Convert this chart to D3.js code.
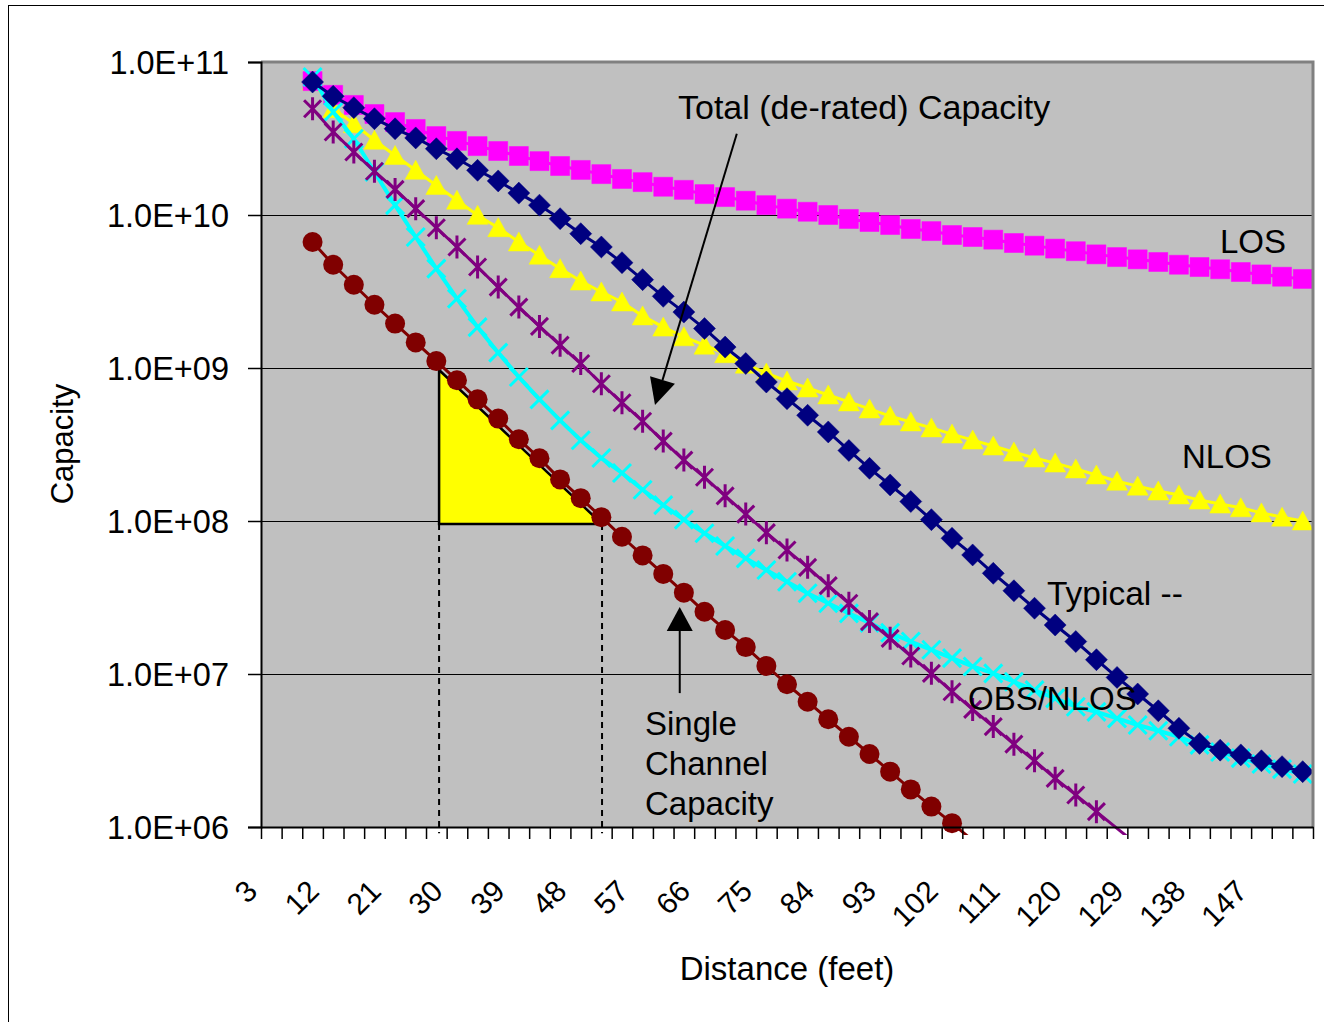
<!DOCTYPE html>
<html><head><meta charset="utf-8">
<script src="https://cdn.jsdelivr.net/npm/d3@7"></script>
<style>body{margin:0;background:#fff;} svg{display:block;} text{font-family:"Liberation Sans",Arial,sans-serif;fill:#000;}</style>
</head><body><svg id="chart" width="1324" height="1022"></svg>
<script>
// ---- data ----
const distances = [3,6,9,12,15,18,21,24,27,30,33,36,39,42,45,48,51,54,57,60,63,66,69,72,75,78,81,84,87,90,93,96,99,102,105,108,111,114,117,120,123,126,129,132,135,138,141,144,147,150,153];
const xTickLabels = ["3","12","21","30","39","48","57","66","75","84","93","102","111","120","129","138","147"];
const yTickValues = [1e6,1e7,1e8,1e9,1e10,1e11];
const yTickLabels = ["1.0E+06","1.0E+07","1.0E+08","1.0E+09","1.0E+10","1.0E+11"];

const losValues = [null,null,
  7.5e10,6.1e10,5.24e10,4.57e10,4.05e10,3.65e10,3.28e10,3.05e10,2.82e10,2.62e10,
  2.43e10,2.25e10,2.09e10,1.97e10,1.85e10,1.72e10,1.64e10,1.53e10,1.46e10,1.37e10,
  1.31e10,1.24e10,1.16e10,1.1e10,1.05e10,1.0e10,9.42e9,9.0e9,8.6e9,8.1e9,
  7.85e9,7.4e9,7.18e9,6.9e9,6.56e9,6.3e9,6.03e9,5.8e9,5.53e9,5.31e9,
  5.13e9,4.93e9,4.73e9,4.57e9,4.42e9,4.24e9,4.09e9,3.95e9,3.82e9];
const nlosValues = [null,null,
  7.5e10,4.95e10,3.95e10,3.08e10,2.45e10,1.96e10,1.56e10,1.25e10,9.95e9,8.26e9,
  6.66e9,5.46e9,4.46e9,3.7e9,3.14e9,2.7e9,2.19e9,1.85e9,1.6e9,1.41e9,
  1.24e9,1.06e9,9.27e8,8.22e8,7.4e8,6.66e8,6.0e8,5.4e8,4.85e8,4.44e8,
  4.06e8,3.7e8,3.38e8,3.09e8,2.82e8,2.58e8,2.39e8,2.19e8,2.0e8,1.82e8,
  1.69e8,1.57e8,1.48e8,1.37e8,1.29e8,1.22e8,1.13e8,1.06e8,1.0e8];
const typicalValues = [null,null,
  7.4e10,5.97e10,5.03e10,4.26e10,3.66e10,3.19e10,2.71e10,2.33e10,1.96e10,1.67e10,
  1.39e10,1.16e10,9.46e9,7.55e9,6.18e9,4.88e9,3.78e9,2.94e9,2.32e9,1.81e9,
  1.37e9,1.07e9,8.1e8,6.3e8,4.91e8,3.82e8,2.89e8,2.21e8,1.72e8,1.34e8,
  1.02e8,7.71e7,6.0e7,4.55e7,3.5e7,2.69e7,2.09e7,1.63e7,1.24e7,9.5e6,
  7.4e6,5.75e6,4.42e6,3.52e6,3.18e6,2.96e6,2.71e6,2.48e6,2.3e6];
const obsValues = [null,null,
  7.98e10,4.71e10,3.15e10,1.91e10,1.16e10,7.18e9,4.46e9,2.84e9,1.85e9,1.26e9,
  8.73e8,6.24e8,4.55e8,3.37e8,2.58e8,2.06e8,1.6e8,1.27e8,1.02e8,8.32e7,
  6.87e7,5.7e7,4.78e7,4.01e7,3.37e7,2.9e7,2.49e7,2.16e7,1.86e7,1.63e7,
  1.44e7,1.27e7,1.12e7,1.01e7,8.9e6,7.85e6,6.93e6,6.11e6,5.66e6,5.13e6,
  4.64e6,4.26e6,3.89e6,3.44e6,3.09e6,2.82e6,2.58e6,2.39e6,2.22e6];
const totalValues = [null,null,
  4.95e10,3.49e10,2.58e10,1.93e10,1.47e10,1.1e10,8.26e9,6.18e9,4.57e9,3.38e9,
  2.5e9,1.87e9,1.41e9,1.07e9,7.89e8,5.93e8,4.49e8,3.33e8,2.5e8,1.93e8,
  1.46e8,1.11e8,8.39e7,6.46e7,4.98e7,3.78e7,2.9e7,2.2e7,1.71e7,1.31e7,
  1.01e7,7.66e6,5.87e6,4.53e6,3.48e6,2.71e6,2.08e6,1.62e6,1.26e6,9.8e5,
  7.62e5,null,null,null,null,null,null,null,null];
const singleValues = [null,null,
  6.66e9,4.73e9,3.5e9,2.59e9,1.95e9,1.47e9,1.11e9,8.32e8,6.24e8,4.67e8,
  3.42e8,2.57e8,1.87e8,1.41e8,1.06e8,7.89e7,5.96e7,4.51e7,3.4e7,2.55e7,
  1.94e7,1.5e7,1.13e7,8.57e6,6.59e6,5.06e6,3.89e6,3.0e6,2.3e6,1.76e6,
  1.36e6,1.06e6,8.17e5,null,null,null,null,null,null,null,
  null,null,null,null,null,null,null,null,null];

// annotation anchors in data space (distance, capacity)
const triangleCorners = [[27.4,9.7e8],[27.4,9.56e7],[51.1,9.56e7]];
const dashBottom = 9.1e5;
const totalArrow = {from:[70.7,3.4e10], to:[58.8,5.73e8]};
const singleArrow = {from:[62.4,7.5e6], to:[62.4,2.74e7]};

// ---- layout ----
const svg = d3.select("#chart");
const L = 261, R = 1313, T = 62, B = 827;
const x = d3.scaleLinear().domain([distances[0]-1.5, distances[distances.length-1]+1.5]).range([L,R]);
const y = d3.scaleLog().domain([1e6,1e11]).range([B,T]);
const FONT = '"Liberation Sans",Arial,sans-serif';

// outer chart border
svg.append("rect").attr("x",8.5).attr("y",5.5).attr("width",1400).attr("height",1100)
  .attr("fill","#fff").attr("stroke","#000").attr("stroke-width",1);

// plot area
svg.append("rect").attr("x",L).attr("y",T).attr("width",R-L).attr("height",B-T).attr("fill","#C0C0C0");

// gridlines
svg.append("g").selectAll("line").data(yTickValues).join("line")
  .attr("x1",L).attr("x2",R).attr("y1",d=>Math.round(y(d))+0.5).attr("y2",d=>Math.round(y(d))+0.5)
  .attr("stroke","#000").attr("stroke-width",1.2);

// clip
svg.append("clipPath").attr("id","plotclip").append("rect")
  .attr("x",L).attr("y",T-20).attr("width",R-L).attr("height",B-T+28);

// yellow triangle annotation
const tri = triangleCorners.map(([d,v])=>[x(d),y(v)]);
svg.append("path").attr("d","M"+tri.map(p=>p.join(",")).join("L")+"Z")
  .attr("fill","#FFFF00").attr("stroke","#000").attr("stroke-width",2.5).attr("stroke-linejoin","miter");
// dashed drop lines
[triangleCorners[1],triangleCorners[2]].forEach(([d,v])=>{
  svg.append("line").attr("x1",x(d)).attr("x2",x(d)).attr("y1",y(v)).attr("y2",y(dashBottom))
    .attr("stroke","#000").attr("stroke-width",2).attr("stroke-dasharray","6,5");
});

// series
const markerPaths = {
  square:"M-9.5,-9.5H9.5V9.5H-9.5Z",
  diamond:"M0,-11L11,0L0,11L-11,0Z",
  triangle:"M0,-10L10.5,9L-10.5,9Z",
  xmark:"M-9,-9L9,9M-9,9L9,-9",
  star:"M-8.5,-8.5L8.5,8.5M-8.5,8.5L8.5,-8.5M0,-11.5V11.5"
};
const series = [
  {name:"Single Channel", values:singleValues, color:"#800000", marker:"circle", lw:3},
  {name:"NLOS", values:nlosValues, color:"#FFFF00", marker:"triangle", lw:3},
  {name:"LOS", values:losValues, color:"#FF00FF", marker:"square", lw:3},
  {name:"OBS/NLOS", values:obsValues, color:"#00FFFF", marker:"xmark", lw:4},
  {name:"Total", values:totalValues, color:"#800080", marker:"star", lw:3},
  {name:"Typical", values:typicalValues, color:"#000080", marker:"diamond", lw:3}
];
const lineGen = d3.line().defined(d=>d.v!=null).x(d=>x(d.d)).y(d=>y(d.v));
const gSeries = svg.append("g").attr("clip-path","url(#plotclip)");
series.forEach(s=>{
  const pts = distances.map((d,i)=>({d, v:s.values[i]}));
  const g = gSeries.append("g");
  g.append("path").datum(pts).attr("d",lineGen).attr("fill","none")
    .attr("stroke",s.color).attr("stroke-width",s.lw).attr("stroke-linejoin","round");
  const mp = pts.filter(p=>p.v!=null && p.v>=1e6);
  if (s.marker==="circle") {
    g.selectAll("circle").data(mp).join("circle").attr("cx",p=>x(p.d)).attr("cy",p=>y(p.v)).attr("r",10)
      .attr("fill",s.color);
  } else if (s.marker==="xmark" || s.marker==="star") {
    g.selectAll("path.m").data(mp).join("path").attr("class","m")
      .attr("transform",p=>`translate(${x(p.d)},${y(p.v)})`).attr("d",markerPaths[s.marker])
      .attr("fill","none").attr("stroke",s.color).attr("stroke-width",3);
  } else {
    g.selectAll("path.m").data(mp).join("path").attr("class","m")
      .attr("transform",p=>`translate(${x(p.d)},${y(p.v)})`).attr("d",markerPaths[s.marker])
      .attr("fill",s.color).attr("stroke",s.color).attr("stroke-width",0.5);
  }
});

// plot border (top/right gray)
svg.append("path").attr("d",`M${L},${T}H${R}V${B}`).attr("fill","none").attr("stroke","#808080").attr("stroke-width",3);

// axes
const yAxis = d3.axisLeft(y).tickValues(yTickValues).tickFormat((d,i)=>yTickLabels[i]).tickSize(13).tickPadding(19);
const gy = svg.append("g").attr("transform",`translate(${L},0)`).call(yAxis);
gy.select(".domain").attr("stroke","#000").attr("stroke-width",2);
gy.selectAll(".tick line").attr("stroke","#000").attr("stroke-width",1.5);
gy.selectAll(".tick text").attr("font-family",FONT).attr("font-size",32.5).attr("fill","#000").attr("dy","0.36em");

const boundaries = distances.map(d=>d-1.5).concat([distances[distances.length-1]+1.5]);
const xAxis = d3.axisBottom(x).tickValues(boundaries).tickFormat("").tickSize(12).tickSizeOuter(0);
const gx = svg.append("g").attr("transform",`translate(0,${B})`).call(xAxis);
gx.select(".domain").attr("stroke","#000").attr("stroke-width",2);
gx.selectAll(".tick line").attr("stroke","#000").attr("stroke-width",1.5);

svg.append("g").selectAll("text").data(xTickLabels).join("text")
  .attr("transform",t=>`translate(${x(+t-1.5)-2},893) rotate(-45)`)
  .attr("text-anchor","end").attr("font-size",30).text(t=>t);

// axis titles
svg.append("text").attr("x",787).attr("y",980).attr("text-anchor","middle").attr("font-size",33).text("Distance (feet)");
svg.append("text").attr("transform","translate(73,444) rotate(-90)").attr("text-anchor","middle").attr("font-size",31).text("Capacity");

// arrows
function arrow(a, headLen, headHalf){
  const x1=x(a.from[0]), y1=y(a.from[1]), x2=x(a.to[0]), y2=y(a.to[1]);
  const dx=x2-x1, dy=y2-y1, len=Math.hypot(dx,dy), ux=dx/len, uy=dy/len;
  const bx=x2-ux*headLen, by=y2-uy*headLen;
  svg.append("line").attr("x1",x1).attr("y1",y1).attr("x2",bx).attr("y2",by).attr("stroke","#000").attr("stroke-width",2);
  svg.append("path").attr("d",`M${x2},${y2}L${bx-uy*headHalf},${by+ux*headHalf}L${bx+uy*headHalf},${by-ux*headHalf}Z`).attr("fill","#000");
}
arrow(totalArrow, 26, 13);
arrow(singleArrow, 24, 13);

// text annotations
const notes = [
  {t:"Total (de-rated) Capacity", x:678, y:119, s:34},
  {t:"LOS", x:1220, y:253, s:33},
  {t:"NLOS", x:1182, y:468, s:33},
  {t:"Typical --", x:1047, y:605, s:33.5},
  {t:"OBS/NLOS", x:968, y:710, s:33},
  {t:"Single", x:645, y:735, s:33},
  {t:"Channel", x:645, y:775, s:33},
  {t:"Capacity", x:645, y:815, s:33}
];
svg.append("g").selectAll("text").data(notes).join("text")
  .attr("x",d=>d.x).attr("y",d=>d.y).attr("font-size",d=>d.s).text(d=>d.t);
</script></body></html>
